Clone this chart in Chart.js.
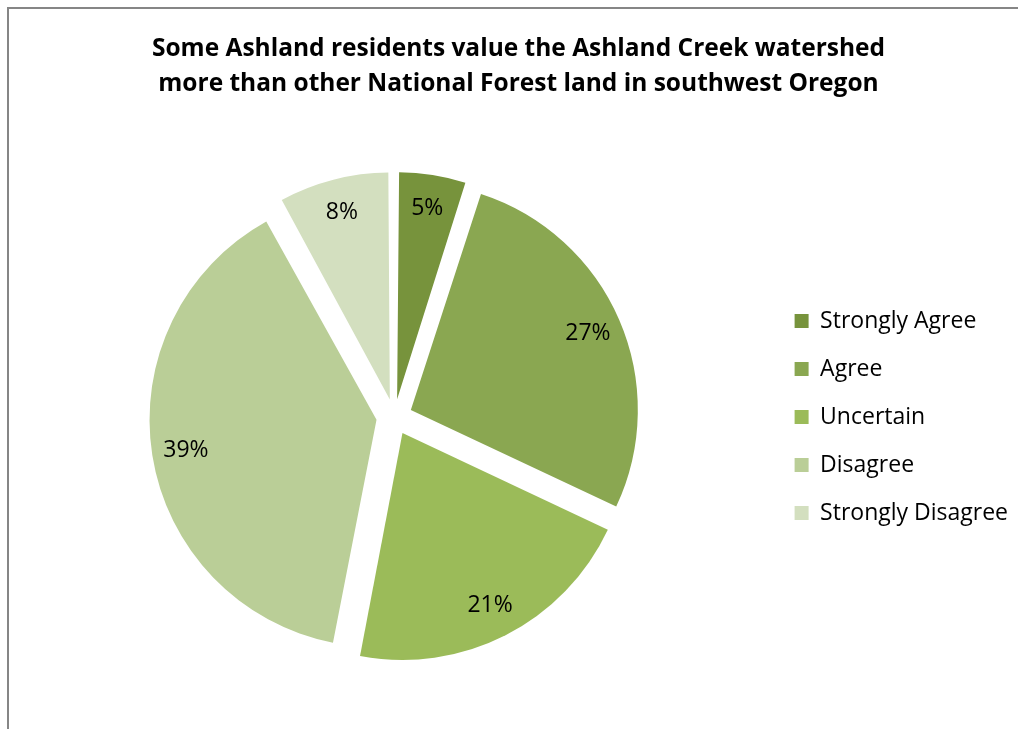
<!DOCTYPE html>
<html>
<head>
<meta charset="utf-8">
<title>Ashland Creek watershed survey</title>
<script src="https://cdn.jsdelivr.net/npm/chart.js@4.4.1/dist/chart.umd.min.js"></script>
<style>
  html, body { margin: 0; padding: 0; background: #fff; }
  #wrap { width: 1018px; height: 729px; }
</style>
</head>
<body>
<div id="wrap"><canvas id="pieChart"></canvas></div>
<script>
const titleLines = [
  'Some Ashland residents value the Ashland Creek watershed',
  'more than other National Forest land in southwest Oregon'
];
const categories = ['Strongly Agree', 'Agree', 'Uncertain', 'Disagree', 'Strongly Disagree'];
const percentages = [5, 27, 21, 39, 8];
const sliceColors = ['#77933C', '#8AA751', '#9BBB59', '#BACE97', '#D3DFBF'];

const FONT = '"Open Sans", Lato, sans-serif';

// gray frame along the top and left edges
const framePlugin = {
  id: 'frame',
  beforeDraw(chart) {
    const ctx = chart.ctx;
    ctx.save();
    ctx.fillStyle = '#fff';
    ctx.fillRect(0, 0, chart.width, chart.height);
    ctx.strokeStyle = '#868686';
    ctx.lineWidth = 2;
    ctx.beginPath();
    ctx.moveTo(8, chart.height);
    ctx.lineTo(8, 8);
    ctx.lineTo(chart.width, 8);
    ctx.stroke();
    ctx.restore();
  }
};

// Chart.js grows the radius of narrow exploded slices; keep every slice on the same radius
const explodeFix = {
  id: 'explodeFix',
  beforeDatasetsDraw(chart) {
    chart.getDatasetMeta(0).data.forEach(arc => {
      const shift = (arc.options.offset || 0) / 4;
      const fix = 1 - Math.sin(Math.min(Math.PI, arc.circumference || 0));
      arc._baseRadius = arc.outerRadius;
      arc.outerRadius = arc.outerRadius - shift * fix;
    });
  },
  afterDatasetsDraw(chart) {
    chart.getDatasetMeta(0).data.forEach(arc => {
      if (arc._baseRadius !== undefined) arc.outerRadius = arc._baseRadius;
    });
  }
};

// percentage labels near the outer edge of each slice
const sliceLabels = {
  id: 'sliceLabels',
  afterDatasetsDraw(chart) {
    const ctx = chart.ctx;
    const meta = chart.getDatasetMeta(0);
    ctx.save();
    ctx.font = '23px ' + FONT;
    ctx.fillStyle = '#000';
    ctx.textAlign = 'center';
    ctx.textBaseline = 'middle';
    meta.data.forEach((arc, i) => {
      const p = arc.getProps(['x', 'y', 'startAngle', 'endAngle', 'outerRadius'], true);
      const mid = (p.startAngle + p.endAngle) / 2;
      const r = (arc.options.offset || 0) / 4 + p.outerRadius * 0.85;
      ctx.fillText(percentages[i] + '%', p.x + Math.cos(mid) * r, p.y + Math.sin(mid) * r);
    });
    ctx.restore();
  }
};

new Chart(document.getElementById('pieChart'), {
  type: 'pie',
  data: {
    labels: categories,
    datasets: [{
      data: percentages,
      backgroundColor: sliceColors,
      borderWidth: 0,
      offset: 72,
      hoverOffset: 0,
      radius: 227
    }]
  },
  options: {
    responsive: true,
    maintainAspectRatio: false,
    animation: false,
    layout: { padding: { left: 19, right: 0, top: 0, bottom: 6 } },
    plugins: {
      title: {
        display: true,
        text: titleLines,
        color: '#000',
        font: { family: FONT, size: 24.5, weight: 'bold', lineHeight: 1.43 },
        padding: { top: 31, bottom: 10 }
      },
      legend: {
        position: 'right',
        fullSize: false,
        labels: {
          color: '#000',
          font: { family: FONT, size: 23 },
          boxWidth: 14,
          boxHeight: 14,
          padding: 25
        }
      },
      tooltip: { enabled: false }
    }
  },
  plugins: [framePlugin, explodeFix, sliceLabels]
});
</script>
</body>
</html>
